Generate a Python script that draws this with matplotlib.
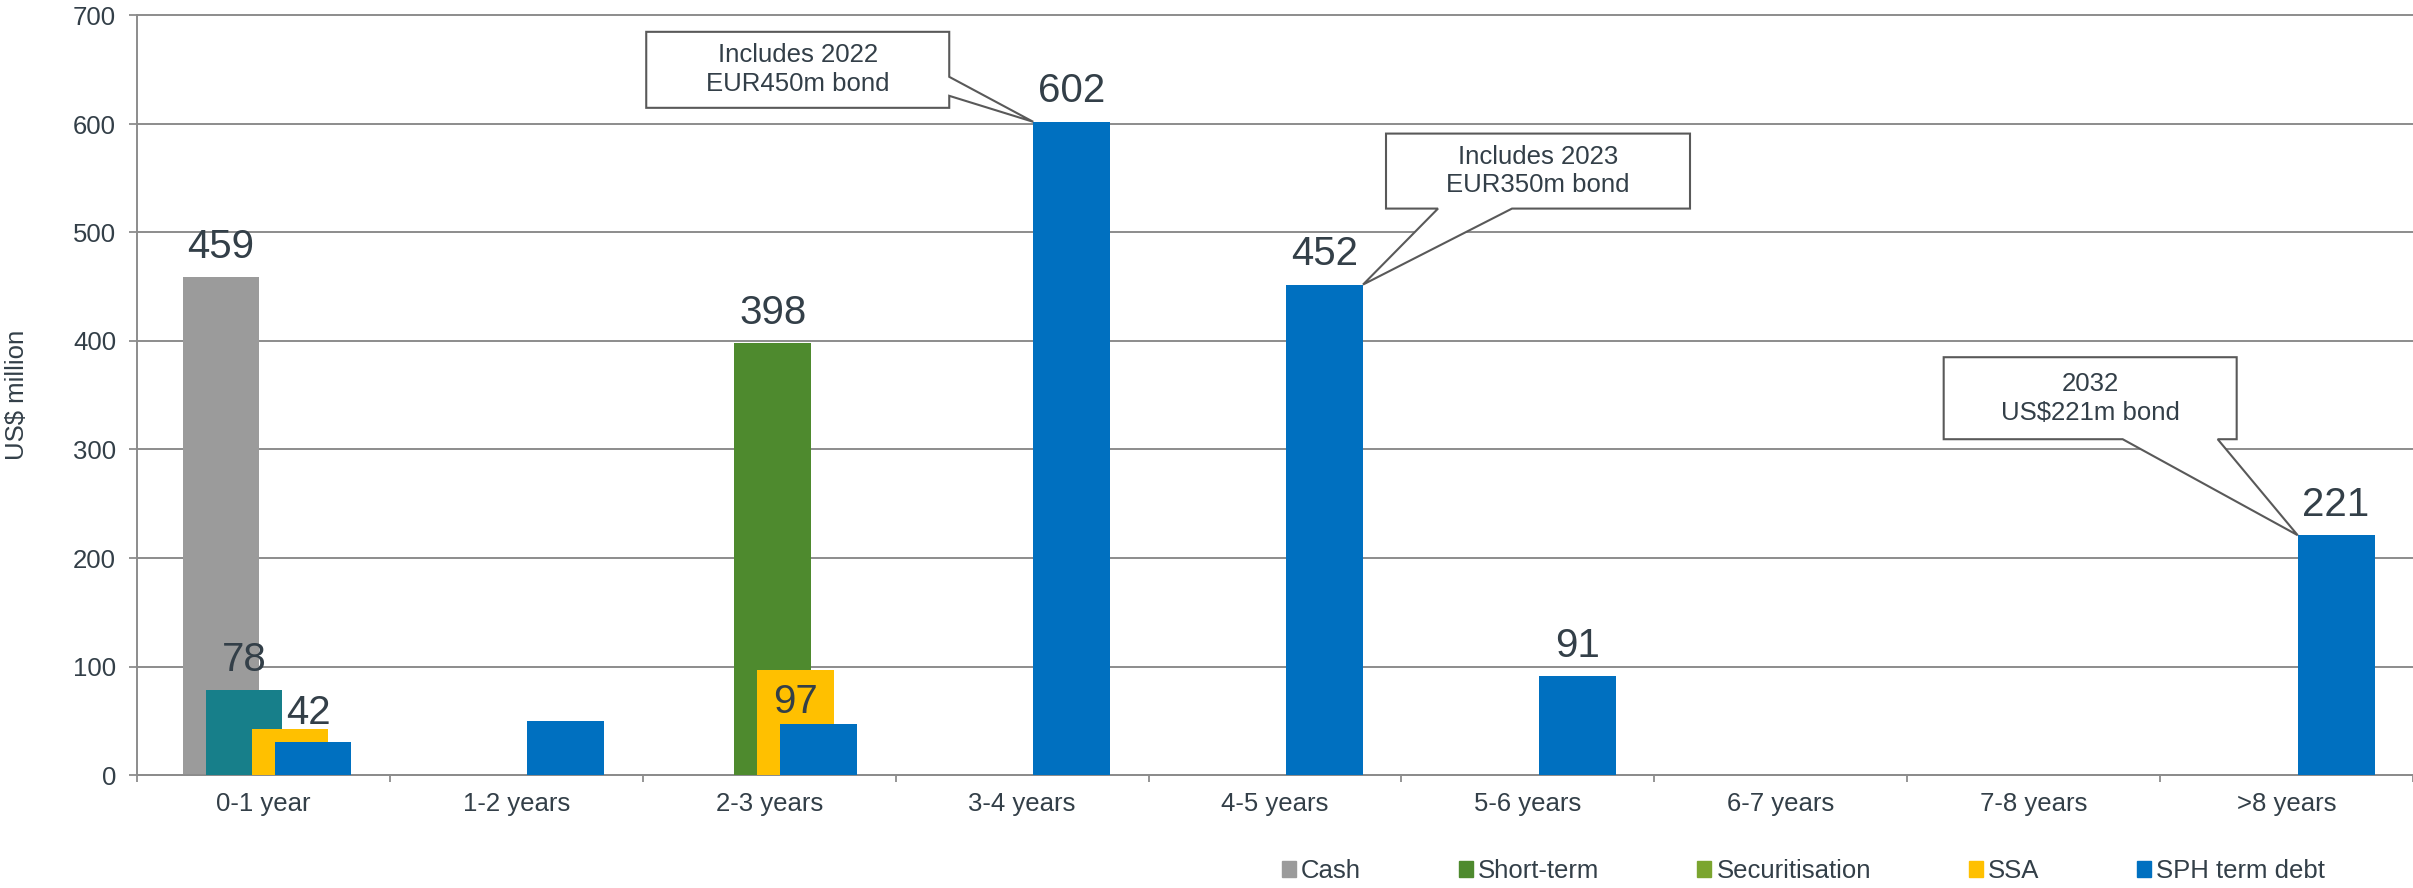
import numpy as np
import matplotlib.pyplot as plt
from matplotlib.patches import Polygon, Patch

plt.rcParams['font.family'] = ['Liberation Sans', 'DejaVu Sans']

# data
categories = ['0-1 year', '1-2 years', '2-3 years', '3-4 years', '4-5 years',
              '5-6 years', '6-7 years', '7-8 years', '>8 years']
cash = [459, 0, 0, 0, 0, 0, 0, 0, 0]
short_term = [78, 0, 0, 0, 0, 0, 0, 0, 0]
securitisation = [0, 0, 398, 0, 0, 0, 0, 0, 0]
ssa = [42, 0, 97, 0, 0, 0, 0, 0, 0]
sph_term_debt = [30, 50, 47, 602, 452, 91, 0, 0, 221]

series_names = ['Cash', 'Short-term', 'Securitisation', 'SSA', 'SPH term debt']
series_values = [cash, short_term, securitisation, ssa, sph_term_debt]
series_colors = ['#9b9b9b', '#4e8a2e', '#7ba52f', '#ffc000', '#0070c0']
# single points coloured differently in the original
point_colors = {(1, 0): '#177f8a', (2, 2): '#4e8a2e'}

# (series, category, dx pt, dy pt)
value_labels = [(0, 0, 0, 14), (1, 0, 0, 14), (3, 0, 13, 4), (2, 2, 0, 14),
                (3, 2, 0, -31), (4, 3, 0, 14), (4, 4, 0, 14), (4, 5, 0, 14),
                (4, 8, 0, 14)]

# (category, side of bar the tip touches, text, box corners rel. to tip px, wedge base)
callouts = [
    (3, 'left', 'Includes 2022\nEUR450m bond', (-387, -84, 14, 90), ('right', 26, 45)),
    (4, 'right', 'Includes 2023\nEUR350m bond', (23, 327, 76, 151), ('bottom', 75, 149)),
    (8, 'left', '2032\nUS$221m bond', (-354, -61, 96, 178), ('bottom', -175, -80)),
]

text_color = '#333f48'
grid_color = '#8c8c8c'
W, H = 2413, 888
fig = plt.figure(figsize=(W / 100, H / 100), dpi=100)
ax = fig.add_axes([137 / W, 113 / H, 1 - 137 / W, (775 - 15.5) / H])

x = np.arange(len(categories))
bar_w = 0.304
step = 0.091
shift = 0.014

for i, (name, vals) in enumerate(zip(series_names, series_values)):
    cols = [point_colors.get((i, j), series_colors[i]) for j in range(len(vals))]
    ax.bar(x + (i - 2) * step + shift, vals, width=bar_w, color=cols, zorder=2 + i)

for si, ci, dx, dy in value_labels:
    v = series_values[si][ci]
    ax.annotate(str(v), (x[ci] + (si - 2) * step + shift, v), xytext=(dx, dy),
                textcoords='offset points', ha='center', va='baseline',
                fontsize=29, color=text_color, zorder=10)

ax.set_xlim(-0.5, len(categories) - 0.5)
ax.set_ylim(0, 700)
ax.set_yticks(range(0, 701, 100))
ax.set_xticks(x)
ax.set_xticklabels(categories)
ax.set_xticks(np.arange(len(categories) + 1) - 0.5, minor=True)
ax.tick_params(axis='x', which='major', length=0, pad=12, labelsize=18.5, labelcolor=text_color)
ax.tick_params(axis='x', which='minor', length=5, width=1.3, color=grid_color)
ax.tick_params(axis='y', length=6, width=1.3, color=grid_color, pad=9,
               labelsize=18.5, labelcolor=text_color)
ax.grid(axis='y', color=grid_color, lw=1.4, zorder=0)
ax.set_axisbelow(True)
for gl in ax.get_ygridlines():
    gl.set_clip_on(False)
for s in ['top', 'right']:
    ax.spines[s].set_visible(False)
for s in ['left', 'bottom']:
    ax.spines[s].set_color(grid_color)
    ax.spines[s].set_linewidth(1.4)

fig.text(17 / W, (113 + (775 - 15.5) / 2) / H, 'US$ million', rotation=90,
         ha='center', va='center', fontsize=18.5, color=text_color)

# callout boxes, built in pixels around the bar corner
for ci, side, txt, (bx0, bx1, by0, by1), (wside, w0, w1) in callouts:
    bx = x[ci] + 2 * step + shift + (-bar_w / 2 if side == 'left' else bar_w / 2)
    tx, ty = ax.transData.transform((bx, sph_term_debt[ci]))
    if wside == 'right':
        pts = [(bx0, by1), (bx1, by1), (bx1, w1), (0, 0), (bx1, w0), (bx1, by0), (bx0, by0)]
    else:
        pts = [(bx0, by1), (bx1, by1), (bx1, by0), (w1, by0), (0, 0), (w0, by0), (bx0, by0)]
    verts = [(tx + px, ty + py) for px, py in pts]
    poly = Polygon(verts, closed=True, fc='white', ec='#595959', lw=1.5,
                   transform=None, zorder=20, clip_on=False)
    fig.add_artist(poly)
    cx = (tx + (bx0 + bx1) / 2) / W
    cy = (ty + (by0 + by1) / 2) / H
    fig.text(cx, cy, txt, ha='center', va='center', fontsize=18.5,
             color=text_color, zorder=21, linespacing=1.25)

handles = [Patch(color=c) for c in series_colors]
ax.legend(handles, series_names, loc='center right', bbox_to_anchor=(2325 / W, 17 / H),
          bbox_transform=fig.transFigure, ncol=5, frameon=False, fontsize=18.5,
          handlelength=0.55, handleheight=0.55, handletextpad=0.2, columnspacing=3.8,
          borderpad=0, borderaxespad=0, labelcolor=text_color)

fig.savefig('out.png', dpi=100)
